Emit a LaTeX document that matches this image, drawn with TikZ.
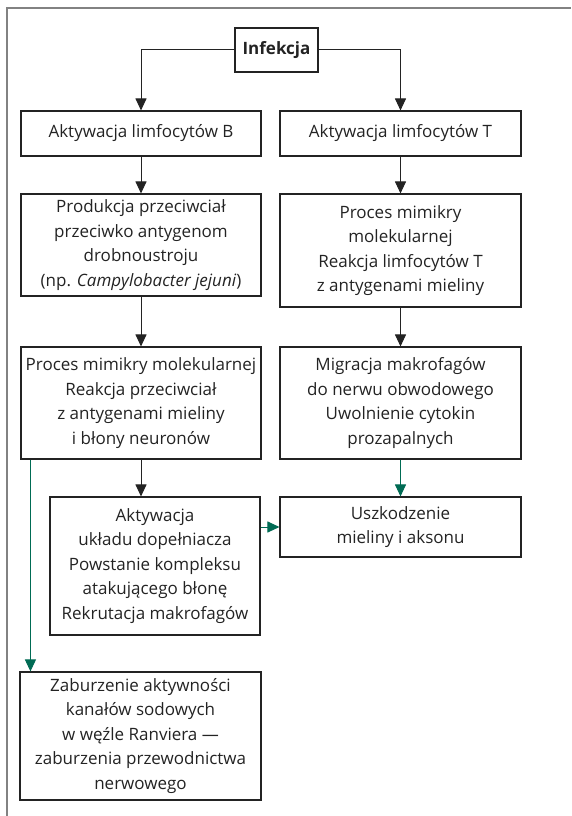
\documentclass[tikz,border=0pt]{standalone}
\usepackage{fontspec}
\setmainfont{Open Sans}
\usetikzlibrary{arrows.meta}
\definecolor{ziel}{RGB}{0,107,84}
\definecolor{ramka}{RGB}{130,130,130}
\definecolor{linia}{RGB}{35,35,35}
\begin{document}
\begin{tikzpicture}[x=1pt, y=-1pt,
    box/.style={draw=linia, line width=1.1pt, align=center, inner sep=0pt,
        text=linia, font=\fontsize{17}{24.5}\selectfont},
    arr/.style={line width=1pt, color=linia, -{Triangle[width=11pt,length=12pt]}},
    garr/.style={line width=1pt, color=ziel, -{Triangle[width=11pt,length=12pt]}}]
    \useasboundingbox (0, 0) rectangle (571, 816);
    \draw[ramka, line width=1.4pt] (7, 816) -- (7, 8) -- (571, 8);

    \node[box, minimum width=83pt, minimum height=44pt, font=\fontsize{17}{24.5}\selectfont\bfseries] (inf) at (276.5, 50) {Infekcja};
    \node[box, minimum width=240pt, minimum height=45pt] (akB) at (141, 133.5) {Aktywacja limfocytów B};
    \node[box, minimum width=241pt, minimum height=45pt] (akT) at (400.5, 133.5) {Aktywacja limfocytów T};
    \node[box, minimum width=240pt, minimum height=102pt] (prodB) at (141, 245) {Produkcja przeciwciał\\przeciwko antygenom\\drobnoustroju\\(np. \textit{Campylobacter jejuni})};
    \node[box, minimum width=241pt, minimum height=113pt] (mimT) at (400.5, 250.5) {Proces mimikry\\molekularnej\\Reakcja limfocytów T\\z antygenami mieliny};
    \node[box, minimum width=240pt, minimum height=112pt] (mimB) at (141, 403) {Proces mimikry molekularnej\\Reakcja przeciwciał\\z antygenami mieliny\\i błony neuronów};
    \node[box, minimum width=241pt, minimum height=112pt] (migT) at (400.5, 403) {Migracja makrofagów\\do nerwu obwodowego\\Uwolnienie cytokin\\prozapalnych};
    \node[box, minimum width=210pt, minimum height=138pt] (komp) at (155, 566) {Aktywacja\\układu dopełniacza\\Powstanie kompleksu\\atakującego błonę\\Rekrutacja makrofagów};
    \node[box, minimum width=241pt, minimum height=60pt] (uszk) at (400.5, 527) {Uszkodzenie\\mieliny i aksonu};
    \node[box, minimum width=241pt, minimum height=128pt] (sod) at (140.5, 736) {Zaburzenie aktywności\\kanałów sodowych\\w węźle Ranviera ---\\zaburzenia przewodnictwa\\nerwowego};

    \draw[arr] (inf.west) -| (akB.north);
    \draw[arr] (inf.east) -| (akT.north);
    \draw[arr] (akB) -- (prodB);
    \draw[arr] (akT) -- (mimT);
    \draw[arr] (prodB) -- (mimB);
    \draw[arr] (mimT) -- (migT);
    \draw[arr] (mimB.south) -- (mimB.south |- komp.north);
    \draw[garr] (migT) -- (uszk);
    \draw[garr] (komp.east |- uszk.west) -- (uszk.west);
    \coordinate (zl) at ([xshift=10pt]mimB.south west);
    \draw[garr] (zl) -- (zl |- sod.north);
\end{tikzpicture}
\end{document}
